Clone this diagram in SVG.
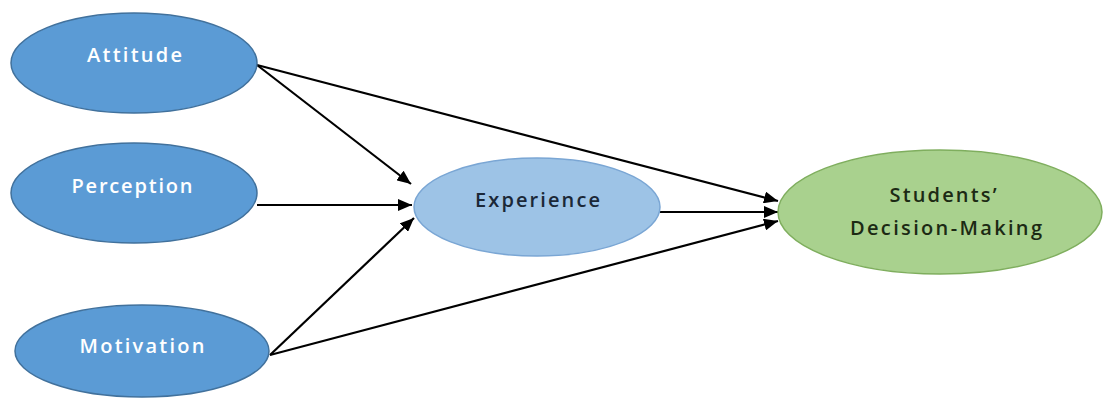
<svg xmlns="http://www.w3.org/2000/svg" width="1105" height="398" viewBox="0 0 1105 398">
<style>
.blue{fill:#5b9bd5;stroke:#41719c;stroke-width:1.5}
.exp{fill:#9dc3e6;stroke:#7aa6d4;stroke-width:1.5}
.grn{fill:#a9d18e;stroke:#7fae5e;stroke-width:1.5}
text{font-family:"Open Sans","Liberation Sans",Arial,sans-serif;font-size:20px;font-weight:600;text-anchor:middle}
.wt{fill:#ffffff}
.dk{fill:#1b2838}
.gk{fill:#1c2a14}
.conn line{stroke:#000;stroke-width:2.2;marker-end:url(#arr)}
</style>
<defs>
<marker id="arr" viewBox="0 0 14 12" refX="14" refY="6" markerWidth="14" markerHeight="12" markerUnits="userSpaceOnUse" orient="auto">
<path d="M0,0 L14,6 L0,12 Z" fill="#000"/>
</marker>
</defs>
<rect width="1105" height="398" fill="#ffffff"/>
<g class="conn">
<line x1="257" y1="65" x2="411" y2="184"/>
<line x1="257" y1="65" x2="778" y2="201"/>
<line x1="257" y1="205" x2="412" y2="205"/>
<line x1="270" y1="355" x2="414" y2="218"/>
<line x1="270" y1="355" x2="778" y2="221"/>
<line x1="660" y1="212" x2="778" y2="212"/>
</g>
<g id="attitude">
<ellipse class="blue" cx="134" cy="63" rx="123" ry="50"/>
<text class="wt" x="134.5" y="62" textLength="95" lengthAdjust="spacing">Attitude</text>
</g>
<g id="perception">
<ellipse class="blue" cx="134" cy="193" rx="123" ry="50"/>
<text class="wt" x="132" y="193" textLength="121" lengthAdjust="spacing">Perception</text>
</g>
<g id="motivation">
<ellipse class="blue" cx="142" cy="351" rx="127" ry="46"/>
<text class="wt" x="142" y="353" textLength="125" lengthAdjust="spacing">Motivation</text>
</g>
<g id="experience">
<ellipse class="exp" cx="537" cy="207" rx="123" ry="49"/>
<text class="dk" x="537.5" y="207" textLength="125" lengthAdjust="spacing">Experience</text>
</g>
<g id="decision">
<ellipse class="grn" cx="940" cy="212" rx="162" ry="62"/>
<text class="gk" x="943" y="202" textLength="107" lengthAdjust="spacing">Students’</text>
<text class="gk" x="946" y="235" textLength="192" lengthAdjust="spacing">Decision-Making</text>
</g>
</svg>
